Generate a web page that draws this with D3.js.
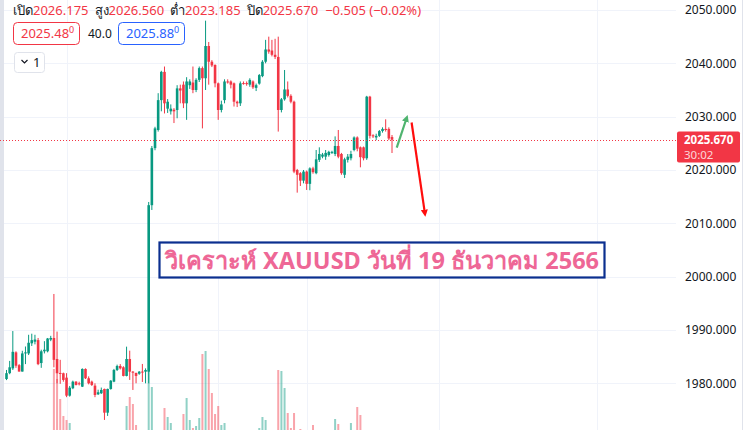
<!DOCTYPE html>
<html>
<head>
<meta charset="utf-8">
<script src="https://cdn.jsdelivr.net/npm/d3@7"></script>
<style>
  html, body { margin: 0; padding: 0; background: #fff; }
  svg { display: block; font-family: "Noto Sans", "Open Sans", Roboto, sans-serif; }
</style>
</head>
<body>
<svg id="chart" width="744" height="430"></svg>
<script>
// ---- data (one entry per bar) ----
const openP = [
  1980.8, 1981.9, 1982.8, 1985.8, 1983.4, 1982.2, 1985.6, 1985.6, 1987.5, 1987.8,
  1988.1, 1983.8, 1986.0, 1986.0, 1988.2, 1988.5, 1984.56, 1981.94, 1981.88, 1981.06,
  1977.68, 1979.07, 1980.31, 1980.0, 1979.37, 1982.69, 1980.94, 1980.31, 1979.56, 1977.94,
  1978.13, 1978.94, 1974.49, 1978.94, 1980.31, 1982.5, 1983.25, 1983.0, 1981.38, 1984.56,
  1982.18, 1981.94, 1981.8, 1982.2, 1982.18, 1982.18, 2013.4, 2024.1, 2027.5, 2033.1,
  2038.4, 2031.5, 2031.0, 2031.3, 2031.25, 2035.3, 2036.0, 2032.5, 2035.9, 2036.4,
  2035.0, 2036.9, 2039.1, 2037.2, 2043.25, 2040.3, 2039.7, 2036.25, 2031.25, 2033.1,
  2036.6, 2036.6, 2036.25, 2032.8, 2032.5, 2036.3, 2036.3, 2036.0, 2036.6, 2035.4,
  2036.2, 2037.6, 2040.3, 2042.6, 2042.4, 2041.6, 2041.2, 2031.25, 2033.25, 2035.1,
  2033.9, 2032.8, 2020.0, 2019.4, 2018.0, 2019.7, 2017.4, 2020.3, 2019.4, 2021.9,
  2022.5, 2022.5, 2022.8, 2023.2, 2023.0, 2024.5, 2023.0, 2019.1, 2021.9, 2022.2,
  2023.75, 2026.1, 2024.25, 2024.25, 2022.2, 2033.75, 2026.5, 2026.1, 2026.4, 2027.3,
  2027.7, 2027.7, 2026.175
];
const closeP = [
  1981.9, 1983.0, 1985.9, 1983.3, 1982.2, 1985.6, 1985.8, 1987.6, 1988.1, 1988.2,
  1983.6, 1986.0, 1986.3, 1988.4, 1988.5, 1984.4, 1981.88, 1981.75, 1980.63, 1977.68,
  1979.18, 1980.31, 1979.69, 1979.9, 1982.69, 1980.94, 1980.0, 1979.69, 1977.81, 1978.32,
  1978.75, 1974.49, 1978.94, 1980.49, 1982.5, 1983.25, 1982.8, 1981.38, 1984.56, 1982.18,
  1982.1, 1981.38, 1982.18, 1982.15, 1982.5, 2013.4, 2024.1, 2027.8, 2033.1, 2038.4,
  2032.5, 2032.8, 2031.5, 2031.0, 2035.3, 2034.9, 2032.5, 2036.6, 2036.6, 2035.0,
  2036.9, 2039.1, 2037.2, 2043.25, 2040.3, 2039.6, 2036.25, 2031.25, 2032.3, 2036.6,
  2036.5, 2036.0, 2032.8, 2032.5, 2036.25, 2036.2, 2036.1, 2036.9, 2035.5, 2035.9,
  2037.8, 2040.3, 2042.6, 2042.2, 2041.6, 2041.2, 2031.25, 2033.25, 2035.1, 2033.9,
  2032.8, 2019.7, 2019.1, 2018.0, 2019.7, 2017.4, 2020.3, 2019.6, 2022.0, 2023.0,
  2022.9, 2023.2, 2023.4, 2023.4, 2024.5, 2022.5, 2019.4, 2022.0, 2022.5, 2023.0,
  2026.1, 2024.0, 2022.4, 2022.2, 2033.75, 2026.4, 2026.3, 2026.4, 2027.3, 2027.7,
  2027.5, 2025.9, 2025.67
];
const highP = [
  1982.5, 1984.2, 1989.8, 1986.0, 1983.6, 1986.1, 1986.9, 1989.1, 1989.3, 1989.1,
  1988.5, 1986.3, 1987.9, 1988.5, 1988.9, 1996.75, 1989.7, 1984.4, 1982.0, 1981.9,
  1979.5, 1980.5, 1980.4, 1980.3, 1982.8, 1982.8, 1981.3, 1980.5, 1980.0, 1978.8,
  1979.2, 1979.0, 1979.0, 1980.6, 1982.7, 1983.5, 1983.6, 1983.2, 1986.87, 1986.12,
  1982.3, 1982.0, 1982.3, 1983.63, 1982.8, 2014.0, 2024.5, 2028.1, 2034.4, 2038.6,
  2039.4, 2033.3, 2032.3, 2031.6, 2035.9, 2036.0, 2036.6, 2037.4, 2037.0, 2039.4,
  2037.2, 2039.4, 2039.4, 2048.0, 2044.0, 2040.6, 2039.8, 2036.4, 2033.0, 2037.0,
  2037.0, 2036.8, 2036.4, 2033.0, 2036.6, 2036.6, 2036.6, 2037.2, 2036.8, 2036.2,
  2038.0, 2040.6, 2044.4, 2045.0, 2044.4, 2044.6, 2045.0, 2033.5, 2038.75, 2036.6,
  2034.2, 2033.0, 2020.2, 2019.6, 2020.0, 2019.9, 2020.5, 2020.6, 2023.75, 2024.25,
  2023.2, 2023.75, 2023.6, 2023.6, 2026.3, 2027.5, 2023.2, 2022.3, 2023.0, 2023.6,
  2026.3, 2026.3, 2024.4, 2024.4, 2033.9, 2033.9, 2026.7, 2026.8, 2027.5, 2028.0,
  2029.5, 2028.0, 2026.56
];
const lowP = [
  1980.6, 1981.7, 1982.5, 1982.9, 1982.2, 1982.2, 1983.6, 1985.3, 1987.0, 1987.3,
  1983.4, 1982.9, 1985.6, 1985.8, 1987.9, 1983.0, 1980.0, 1979.9, 1980.3, 1977.4,
  1977.5, 1978.9, 1979.6, 1979.6, 1979.3, 1980.8, 1979.8, 1979.5, 1977.4, 1977.8,
  1978.0, 1973.13, 1973.88, 1978.8, 1980.2, 1982.3, 1982.6, 1981.3, 1981.3, 1980.63,
  1978.75, 1980.0, 1981.6, 1980.25, 1980.0, 1980.0, 2012.5, 2023.7, 2027.2, 2031.0,
  2030.6, 2030.7, 2030.4, 2028.8, 2029.7, 2032.5, 2031.6, 2029.4, 2035.2, 2034.4,
  2034.6, 2036.5, 2027.8, 2035.0, 2036.0, 2039.3, 2035.5, 2029.4, 2030.8, 2032.5,
  2036.2, 2035.3, 2031.9, 2031.8, 2032.0, 2036.0, 2035.8, 2035.6, 2035.2, 2034.8,
  2036.0, 2037.4, 2040.0, 2041.8, 2041.3, 2040.8, 2027.2, 2030.8, 2033.0, 2033.6,
  2032.5, 2019.4, 2015.75, 2017.0, 2017.5, 2016.25, 2016.2, 2019.3, 2019.2, 2021.5,
  2022.2, 2021.9, 2022.5, 2023.0, 2022.6, 2022.2, 2019.1, 2018.5, 2021.4, 2021.8,
  2023.5, 2023.5, 2020.5, 2021.8, 2021.9, 2025.9, 2026.0, 2025.6, 2026.2, 2027.0,
  2027.2, 2025.6, 2023.185
];
const volumeP = [
  0, 0, 0, 0, 0, 0, 0, 0, 0, 0,
  0, 0, 0, 0, 0, 610, 510, 310, 140, 100,
  70, 0, 0, 0, 0, 0, 0, 0, 0, 0,
  0, 0, 0, 0, 0, 0, 0, 0, 240, 330,
  260, 50, 0, 0, 0, 900, 430, 0, 0, 0,
  220, 130, 70, 0, 0, 0, 160, 320, 100, 20,
  40, 120, 760, 790, 610, 370, 160, 240, 50, 70,
  0, 0, 0, 0, 0, 0, 0, 0, 0, 0,
  20, 130, 100, 0, 0, 0, 600, 590, 420, 170,
  20, 170, 0, 10, 0, 0, 0, 50, 0, 0,
  0, 0, 0, 0, 110, 60, 0, 0, 0, 70,
  0, 230, 150, 0, 0, 0, 0, 0, 0, 0,
  0, 0, 0
];
const priceTicks = [1980, 1990, 2000, 2010, 2020, 2030, 2040, 2050];
const timeGridBars = [19, 67, 95, 137, 187];
const lastPrice = 2025.670;
const countdown = "30:02";
const headerLabels = ["เปิด", "สูง", "ต่ำ", "ปิด"];
const headerValues = ["2026.175", "2026.560", "2023.185", "2025.670"];
const changeText = "−0.505 (−0.02%)";
const bidText = "2025.48", spreadText = "40.0", askText = "2025.88";
const titleText = "วิเคราะห์ XAUUSD วันที่ 19 ธันวาคม 2566";
// annotation arrows, in [bar index, price]
const upArrow = [[123.5, 2024.2], [126.6, 2029.7]];
const downArrow = [[128.2, 2028.9], [132.4, 2011.9]];

const UP = "#089981", DOWN = "#f23645";
const UP_VOL = "rgba(8,153,129,0.45)", DOWN_VOL = "rgba(242,54,69,0.45)";
const GRID = "#f0f3fa", TEXT = "#131722";

const width = 744, height = 430;
const plotRight = 676;

const bars = openP.map((o, i) => ({
  i, o, c: closeP[i], h: highP[i], l: lowP[i], v: volumeP[i]
}));

const svg = d3.select("#chart");

// ---- scales ----
const x = d3.scaleLinear().domain([0, bars.length - 1]).range([6.5, 392]);
const y = d3.scaleLinear().domain([1980, 2050]).range([383.3, 10]);
const yVol = d3.scaleLinear().domain([0, 1000]).range([430, 330]);

// ---- grid ----
const grid = svg.append("g");
grid.selectAll(".hgrid")
  .data(priceTicks)
  .join("line")
  .attr("x1", 0).attr("x2", plotRight)
  .attr("y1", d => Math.round(y(d)) + 0.5)
  .attr("y2", d => Math.round(y(d)) + 0.5)
  .attr("stroke", GRID);

grid.selectAll(".vgrid")
  .data(timeGridBars)
  .join("line")
  .attr("x1", d => Math.round(x(d)) + 0.5)
  .attr("x2", d => Math.round(x(d)) + 0.5)
  .attr("y1", 0).attr("y2", height)
  .attr("stroke", GRID);

// left panel edge and right scale border
svg.append("rect").attr("x", 0).attr("y", 0).attr("width", 4).attr("height", height).attr("fill", "#e0e3eb");
svg.append("line").attr("x1", 742.5).attr("x2", 742.5).attr("y1", 0).attr("y2", height).attr("stroke", "#e0e3eb");

// ---- volume ----
svg.append("g").selectAll("rect")
  .data(bars.filter(d => d.v > 0))
  .join("rect")
  .attr("x", d => x(d.i) - 1)
  .attr("y", d => yVol(d.v))
  .attr("width", 2)
  .attr("height", d => yVol(0) - yVol(d.v))
  .attr("fill", d => d.c >= d.o ? UP_VOL : DOWN_VOL);

// ---- candles ----
const candle = svg.append("g").selectAll("g")
  .data(bars)
  .join("g");

candle.append("line")
  .attr("x1", d => x(d.i)).attr("x2", d => x(d.i))
  .attr("y1", d => y(d.h)).attr("y2", d => y(d.l))
  .attr("stroke", d => d.c >= d.o ? UP : DOWN)
  .attr("stroke-width", 1);

candle.append("rect")
  .attr("x", d => x(d.i) - 1.3)
  .attr("y", d => y(Math.max(d.o, d.c)))
  .attr("width", 2.6)
  .attr("height", d => Math.max(1, Math.abs(y(d.o) - y(d.c))))
  .attr("fill", d => d.c >= d.o ? UP : DOWN);

// ---- last price line ----
svg.append("line")
  .attr("x1", 0).attr("x2", plotRight)
  .attr("y1", Math.round(y(lastPrice)) + 0.5)
  .attr("y2", Math.round(y(lastPrice)) + 0.5)
  .attr("stroke", DOWN)
  .attr("stroke-dasharray", "1 2");

// ---- price axis ----
svg.append("g").selectAll("text")
  .data(priceTicks)
  .join("text")
  .attr("x", 685)
  .attr("y", d => y(d))
  .attr("dy", "0.36em")
  .attr("font-size", 12)
  .attr("fill", TEXT)
  .text(d => d3.format(".3f")(d));

const tag = svg.append("g").attr("transform", `translate(677,${Math.round(y(lastPrice)) - 8.5})`);
tag.append("rect").attr("width", 63).attr("height", 31).attr("rx", 2).attr("fill", DOWN);
tag.append("text").attr("x", 7).attr("y", 12.5).attr("font-size", 11.5).attr("font-weight", "bold")
  .attr("fill", "#fff").text(d3.format(".3f")(lastPrice));
tag.append("text").attr("x", 7).attr("y", 27.5).attr("font-size", 11.5)
  .attr("fill", "#fff").attr("fill-opacity", 0.8).text(countdown);

// ---- legend header ----
const head = svg.append("text").attr("x", 13).attr("y", 15).attr("font-size", 13);
headerLabels.forEach((lab, k) => {
  head.append("tspan").attr("dx", k ? 6 : 0).attr("fill", TEXT).text(lab);
  head.append("tspan").attr("fill", DOWN).text(headerValues[k]);
});
head.append("tspan").attr("dx", 7).attr("fill", DOWN).text(changeText);

function priceBox(x0, w, color, label) {
  svg.append("rect").attr("x", x0 + 0.5).attr("y", 22.5).attr("width", w).attr("height", 22)
    .attr("rx", 4).attr("fill", "#fff").attr("stroke", color);
  const t = svg.append("text").attr("x", x0 + 8).attr("y", 38).attr("font-size", 13).attr("fill", color);
  t.append("tspan").text(label);
  t.append("tspan").attr("font-size", 9).attr("dy", -5).text("0");
}
priceBox(13, 66, DOWN, bidText);
svg.append("text").attr("x", 88).attr("y", 38).attr("font-size", 12).attr("fill", TEXT).text(spreadText);
priceBox(118, 66, "#2962ff", askText);

svg.append("rect").attr("x", 14.5).attr("y", 52.5).attr("width", 30).attr("height", 20)
  .attr("rx", 3).attr("fill", "#fff").attr("stroke", "#e0e3eb");
svg.append("path").attr("d", "M21.5,60 L24.5,63 L27.5,60").attr("fill", "none")
  .attr("stroke", TEXT).attr("stroke-width", 1.2);
svg.append("text").attr("x", 33).attr("y", 67).attr("font-size", 13).attr("fill", TEXT).text("1");

// ---- title box ----
const boxX = 159.5, boxY = 242.5, boxW = 445, boxH = 35;
svg.append("rect").attr("x", boxX).attr("y", boxY).attr("width", boxW).attr("height", boxH)
  .attr("fill", "#fff").attr("stroke", "#0b2f8f").attr("stroke-width", 2.2);
const title = svg.append("text")
  .attr("x", boxX + boxW / 2).attr("y", boxY + 26)
  .attr("text-anchor", "middle")
  .attr("font-size", 22).attr("font-weight", "bold")
  .attr("fill", "#ee6796")
  .text(titleText);
const tw = title.node().getComputedTextLength();
if (tw > 0) title.attr("font-size", 22 * 434 / tw);

// ---- arrows ----
const defs = svg.append("defs");
function marker(id, color) {
  defs.append("marker").attr("id", id).attr("viewBox", "0 0 10 10")
    .attr("refX", 5).attr("refY", 5).attr("markerWidth", 3.2).attr("markerHeight", 3.2)
    .attr("orient", "auto")
    .append("path").attr("d", "M0,0 L10,5 L0,10 Z").attr("fill", color);
}
marker("headUp", "#4fb46f");
marker("headDown", "#ff0d0d");
const arrowLine = d3.line().x(d => x(d[0])).y(d => y(d[1]));
svg.append("path").attr("d", arrowLine(upArrow)).attr("stroke", "#4fb46f")
  .attr("stroke-width", 2.2).attr("fill", "none").attr("marker-end", "url(#headUp)");
svg.append("path").attr("d", arrowLine(downArrow)).attr("stroke", "#ff0d0d")
  .attr("stroke-width", 2.2).attr("fill", "none").attr("marker-end", "url(#headDown)");
</script>
</body>
</html>
